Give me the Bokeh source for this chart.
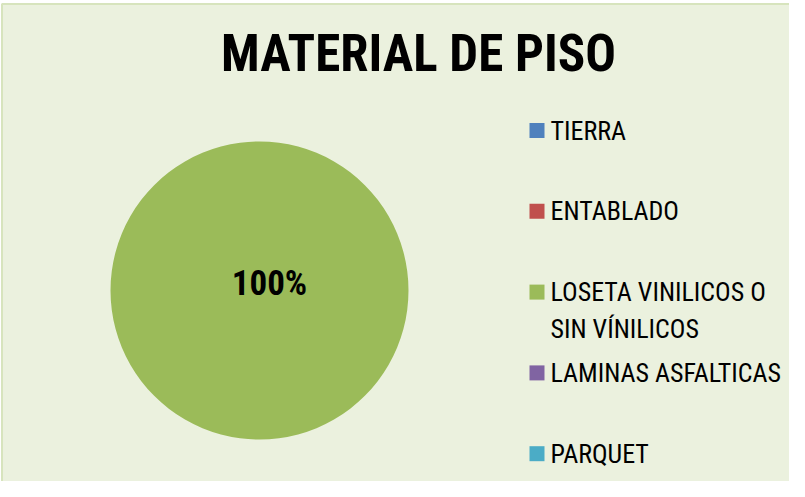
import math
from bokeh.plotting import figure
from bokeh.models import Range1d, ColumnDataSource
from bokeh.core.properties import value
from bokeh.embed import file_html
from bokeh.resources import INLINE

# ---- data ----
title_text = "MATERIAL DE PISO"
categories = ["TIERRA", "ENTABLADO", "LOSETA VINILICOS O\nSIN VÍNILICOS", "LAMINAS ASFALTICAS", "PARQUET"]
values = [0, 0, 100, 0, 0]
colors = ["#4F81BD", "#C0504D", "#9BBB59", "#8064A2", "#4BACC6"]

FONT = value("'Roboto Condensed', 'Liberation Sans', sans-serif")
W, H = 789, 481

p = figure(width=W, height=H, x_range=Range1d(0, W), y_range=Range1d(H, 0),
           output_backend="svg", toolbar_location=None, min_border=0)
p.axis.visible = False
p.grid.visible = False
p.outline_line_color = None
p.background_fill_color = "white"
p.border_fill_color = "white"

# chart panel
p.quad(left=1.5, right=W + 20, top=3.5, bottom=H + 20,
       fill_color="#EBF1DE", line_color="#D7E4BD", line_width=2)

# title
p.text(x=[418], y=[53], text=[title_text], text_font=FONT, text_font_size="51px",
       text_font_style="bold", text_align="center", text_baseline="middle", text_color="black")

# pie
cx, cy, r = 259, 290, 149
total = sum(values)
starts, ends, wc = [], [], []
cum = 0.0
for v, c in zip(values, colors):
    if v <= 0:
        continue
    a0 = math.pi / 2 - 2 * math.pi * cum / total
    cum += v
    a1 = math.pi / 2 - 2 * math.pi * cum / total
    if abs(a1 - a0) >= 2 * math.pi - 1e-9:
        a1 = a0 - (2 * math.pi - 1e-6)
    starts.append(a0); ends.append(a1); wc.append(c)
src = ColumnDataSource(dict(x=[cx] * len(starts), y=[cy] * len(starts),
                            start=starts, end=ends, color=wc))
p.wedge(x="x", y="y", radius=r, start_angle="start", end_angle="end",
        direction="clock", fill_color="color", line_color=None, source=src)

# data label
pct = [f"{round(100 * v / total)}%" for v in values if v > 0]
p.text(x=[cx + 10], y=[cy - 7], text=pct, text_font=FONT, text_font_size="35px",
       text_font_style="bold", text_align="center", text_baseline="middle", text_color="black")

# legend
lx, ly0, dy = 529, 130, 80.8
ys = [ly0 + i * dy for i in range(len(categories))]
p.scatter(x=[lx + 7.5] * len(categories), y=ys, marker="square", size=15,
          fill_color=colors, line_color=None)
p.text(x=[lx + 21] * len(categories), y=[y - 15 for y in ys], text=categories,
       text_font=FONT, text_font_size="26px", text_align="left", text_baseline="top",
       text_line_height=1.22, text_color="black")

open("out.html", "w").write(file_html(p, INLINE))
